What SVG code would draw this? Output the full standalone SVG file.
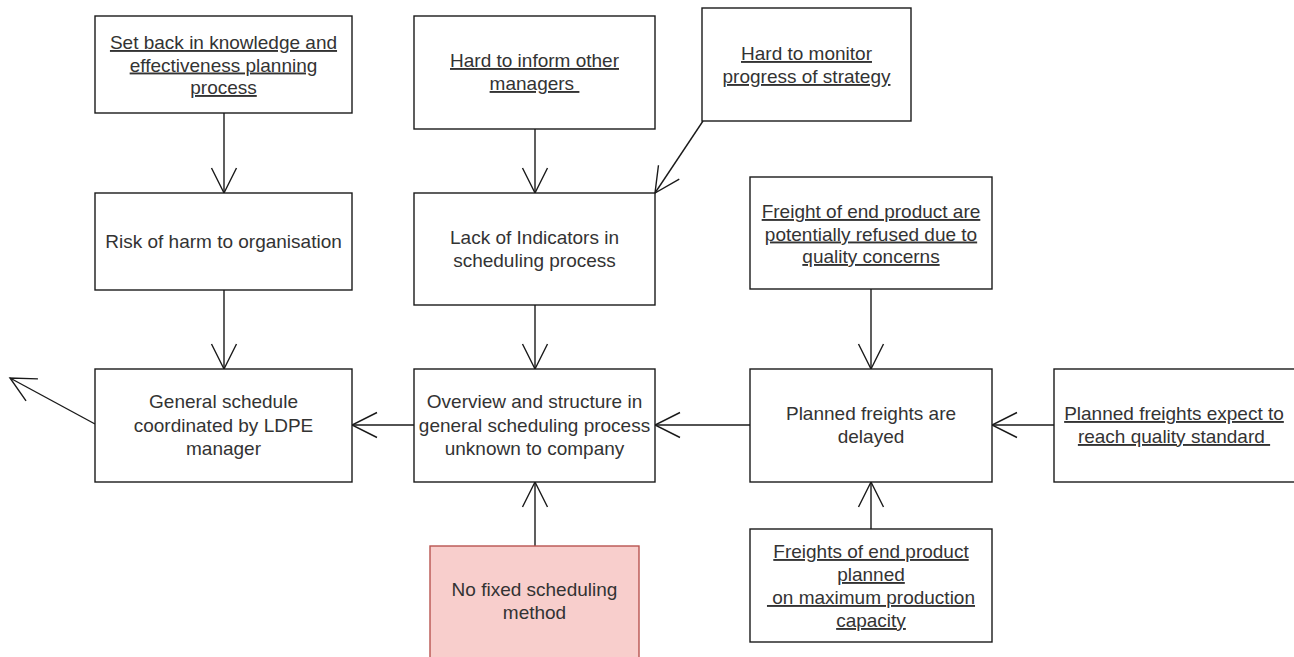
<svg xmlns="http://www.w3.org/2000/svg" width="1294" height="657" viewBox="0 0 1294 657">
  <style>
    .box { fill: #ffffff; stroke: #1a1a1a; stroke-width: 1.4; }
    .root { fill: #f8cecc; stroke: #b85450; stroke-width: 1.4; }
    .lbl { font-family: "Liberation Sans", Arial, sans-serif; font-size: 19px; fill: #333333; text-anchor: middle; white-space: pre; }
    .u { text-decoration: underline; }
    .edge { fill: none; stroke: #1a1a1a; stroke-width: 1.4; marker-end: url(#open); }
  </style>
  <defs>
    <marker id="open" markerUnits="userSpaceOnUse" viewBox="-27 -14 29 28" refX="0" refY="0" markerWidth="29" markerHeight="28" orient="auto" overflow="visible">
      <path d="M -25 -12.5 L 0 0 L -25 12.5" fill="none" stroke="#1a1a1a" stroke-width="1.4"/>
    </marker>
  </defs>

  <rect width="1294" height="657" fill="#ffffff"/>

  <g id="connectors">
    <path class="edge" d="M 224 113 L 224 193"/>
    <path class="edge" d="M 224 290 L 224 369"/>
    <path class="edge" d="M 535 129 L 535 193"/>
    <path class="edge" d="M 703 121 L 655 193"/>
    <path class="edge" d="M 535 305 L 535 369"/>
    <path class="edge" d="M 414 425 L 352 425"/>
    <path class="edge" d="M 750 425 L 655 425"/>
    <path class="edge" d="M 1054 425 L 992 425"/>
    <path class="edge" d="M 871 289 L 871 369"/>
    <path class="edge" d="M 871 529 L 871 482"/>
    <path class="edge" d="M 535 546 L 535 482"/>
    <path class="edge" d="M 95 424 L 10 378"/>
  </g>

  <g id="set-back">
    <rect class="box" x="95" y="16" width="257" height="97"/>
    <text class="lbl u" x="223.5" y="49">Set back in knowledge and</text>
    <text class="lbl u" x="223.5" y="71.5">effectiveness planning</text>
    <text class="lbl u" x="223.5" y="94">process</text>
  </g>

  <g id="risk-of-harm">
    <rect class="box" x="95" y="193" width="257" height="97"/>
    <text class="lbl" x="223.5" y="248">Risk of harm to organisation</text>
  </g>

  <g id="general-schedule">
    <rect class="box" x="95" y="369" width="257" height="113"/>
    <text class="lbl" x="223.5" y="408">General schedule</text>
    <text class="lbl" x="223.5" y="431.5">coordinated by LDPE</text>
    <text class="lbl" x="223.5" y="455">manager</text>
  </g>

  <g id="hard-to-inform">
    <rect class="box" x="414" y="16" width="241" height="113"/>
    <text class="lbl u" x="534.5" y="67">Hard to inform other</text>
    <text class="lbl u" x="534.5" y="90">managers </text>
  </g>

  <g id="hard-to-monitor">
    <rect class="box" x="702" y="8" width="209" height="113"/>
    <text class="lbl u" x="806.5" y="60">Hard to monitor</text>
    <text class="lbl u" x="806.5" y="83">progress of strategy</text>
  </g>

  <g id="lack-of-indicators">
    <rect class="box" x="414" y="193" width="241" height="112"/>
    <text class="lbl" x="534.5" y="244">Lack of Indicators in</text>
    <text class="lbl" x="534.5" y="267">scheduling process</text>
  </g>

  <g id="overview-structure">
    <rect class="box" x="414" y="369" width="241" height="113"/>
    <text class="lbl" x="534.5" y="408">Overview and structure in</text>
    <text class="lbl" x="534.5" y="431.5">general scheduling process</text>
    <text class="lbl" x="534.5" y="455">unknown to company</text>
  </g>

  <g id="no-fixed-method">
    <rect class="root" x="430" y="546" width="209" height="113"/>
    <text class="lbl" x="534.5" y="596">No fixed scheduling</text>
    <text class="lbl" x="534.5" y="619">method</text>
  </g>

  <g id="freight-refused">
    <rect class="box" x="750" y="177" width="242" height="112"/>
    <text class="lbl u" x="871" y="218">Freight of end product are</text>
    <text class="lbl u" x="871" y="240.5">potentially refused due to</text>
    <text class="lbl u" x="871" y="263">quality concerns</text>
  </g>

  <g id="freights-delayed">
    <rect class="box" x="750" y="369" width="242" height="113"/>
    <text class="lbl" x="871" y="420">Planned freights are</text>
    <text class="lbl" x="871" y="443">delayed</text>
  </g>

  <g id="quality-standard">
    <rect class="box" x="1054" y="369" width="242" height="113"/>
    <text class="lbl u" x="1174" y="420">Planned freights expect to</text>
    <text class="lbl u" x="1174" y="443">reach quality standard </text>
  </g>

  <g id="max-capacity">
    <rect class="box" x="750" y="529" width="242" height="113"/>
    <text class="lbl u" x="871" y="558">Freights of end product</text>
    <text class="lbl u" x="871" y="581">planned</text>
    <text class="lbl u" x="871" y="604"> on maximum production</text>
    <text class="lbl u" x="871" y="627">capacity</text>
  </g>
</svg>
